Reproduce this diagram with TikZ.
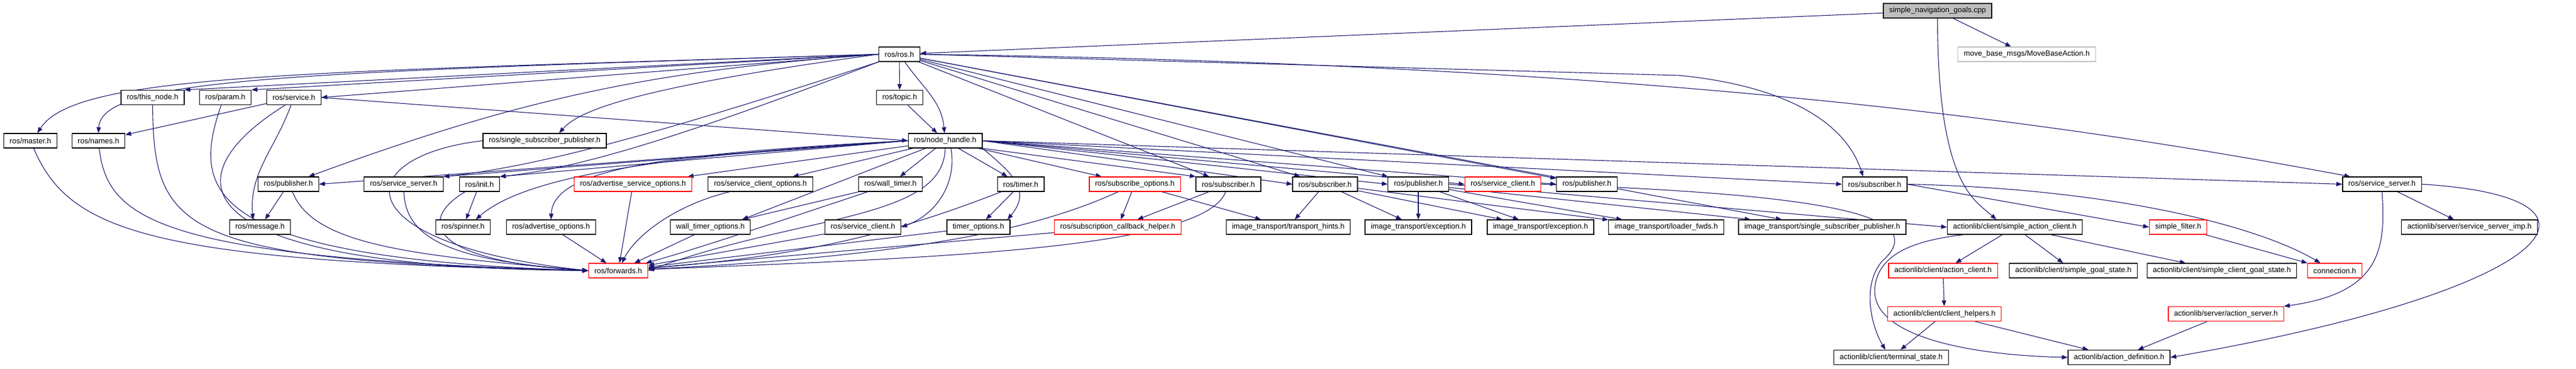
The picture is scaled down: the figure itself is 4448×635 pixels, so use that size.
\documentclass[tikz,border=0pt]{standalone}
\usepackage{fontspec}
\setmainfont{Liberation Sans}
\usetikzlibrary{arrows.meta}
\pgfdeclarelayer{background}
\pgfsetlayers{background,main}
\definecolor{edgeblue}{HTML}{191970}
\definecolor{boxgrey}{HTML}{BFBFBF}
\definecolor{boxred}{HTML}{FF0000}
\tikzset{
  file/.style={draw=black, line width=1.3pt, fill=white, minimum height=25pt, inner xsep=10pt, inner ysep=0pt, font=\fontsize{13}{15}\selectfont},
  trunc/.style={file, draw=boxred},
  ext/.style={file, draw=boxgrey},
  root/.style={file, fill=boxgrey},
  dep/.style={->, draw=edgeblue, line width=1.1pt}
}
\begin{document}
\begin{tikzpicture}[x=1pt, y=1pt, >={Triangle[length=10pt,width=7.5pt]}]
\useasboundingbox (0,0) rectangle (4448,-635);
% row 0 and 1
\node[root] (cpp) at (3345.5,-18.5) {simple\_navigation\_goals.cpp};
\node[file] (rosh) at (1553,-93.5) {ros/ros.h};
\node[ext] (movebase) at (3499.5,-93.5) {move\_base\_msgs/MoveBaseAction.h};
% row 2
\node[file] (thisnode) at (263.5,-168) {ros/this\_node.h};
\node[file] (param) at (389,-168) {ros/param.h};
\node[file] (service) at (507.5,-168) {ros/service.h};
\node[file] (topic) at (1553.5,-168) {ros/topic.h};
% row 3
\node[file] (master) at (52.5,-242.5) {ros/master.h};
\node[file] (names) at (170,-242.5) {ros/names.h};
\node[file] (ssp) at (940.5,-242.5) {ros/single\_subscriber\_publisher.h};
\node[file] (nodehandle) at (1632,-242.5) {ros/node\_handle.h};
% row 4
\node[file] (publisherA) at (498,-317.5) {ros/publisher.h};
\node[file] (servserverA) at (697,-317.5) {ros/service\_server.h};
\node[file] (init) at (828,-317.5) {ros/init.h};
\node[trunc] (advsrvopt) at (1093,-317.5) {ros/advertise\_service\_options.h};
\node[file] (srvclientopt) at (1313,-317.5) {ros/service\_client\_options.h};
\node[file] (walltimer) at (1537.5,-317.5) {ros/wall\_timer.h};
\node[file] (timer) at (1762.5,-317.5) {ros/timer.h};
\node[trunc] (subopt) at (1959.5,-317.5) {ros/subscribe\_options.h};
\node[file] (subscriberA) at (2121,-317.5) {ros/subscriber.h};
\node[file] (subscriberB) at (2288,-317.5) {ros/subscriber.h};
\node[file] (publisherB) at (2449,-317.5) {ros/publisher.h};
\node[trunc] (srvclient) at (2595,-317.5) {ros/service\_client.h};
\node[file] (publisherC) at (2740,-317.5) {ros/publisher.h};
\node[file] (subscriberC) at (3237,-317.5) {ros/subscriber.h};
\node[file] (servserverB) at (4113,-317.5) {ros/service\_server.h};
% row 5
\node[file] (message) at (449,-391.5) {ros/message.h};
\node[file] (spinner) at (799.5,-391.5) {ros/spinner.h};
\node[file] (advopt) at (951.5,-391.5) {ros/advertise\_options.h};
\node[file] (walltimeropt) at (1226.5,-391.5) {wall\_timer\_options.h};
\node[file] (srvclientB) at (1490,-391.5) {ros/service\_client.h};
\node[file] (timeropt) at (1689.5,-391.5) {timer\_options.h};
\node[trunc] (subcbhelper) at (1930,-391.5) {ros/subscription\_callback\_helper.h};
\node[file] (transporthints) at (2224.5,-391.5) {image\_transport/transport\_hints.h};
\node[file] (exceptionA) at (2449,-391.5) {image\_transport/exception.h};
\node[file] (exceptionB) at (2660,-391.5) {image\_transport/exception.h};
\node[file] (loaderfwds) at (2877,-391.5) {image\_transport/loader\_fwds.h};
\node[file] (itssp) at (3146.5,-391.5) {image\_transport/single\_subscriber\_publisher.h};
\node[file] (sac) at (3479,-391.5) {actionlib/client/simple\_action\_client.h};
\node[trunc] (simplefilter) at (3761,-391.5) {simple\_filter.h};
\node[file] (ssimp) at (4264,-391.5) {actionlib/server/service\_server\_imp.h};
% row 6 to 8
\node[trunc] (forwards) at (1067.5,-466.5) {ros/forwards.h};
\node[trunc] (actionclient) at (3355,-466.5) {actionlib/client/action\_client.h};
\node[file] (sgs) at (3580,-466.5) {actionlib/client/simple\_goal\_state.h};
\node[file] (scgs) at (3836.5,-466.5) {actionlib/client/simple\_client\_goal\_state.h};
\node[trunc] (connection) at (4031.5,-466.5) {connection.h};
\node[trunc] (clienthelpers) at (3357.5,-541) {actionlib/client/client\_helpers.h};
\node[trunc] (actionserver) at (3843.5,-541) {actionlib/server/action\_server.h};
\node[file] (terminal) at (3265.5,-616) {actionlib/client/terminal\_state.h};
\node[file] (actiondef) at (3659,-616) {actionlib/action\_definition.h};

\begin{pgfonlayer}{background}
% from the source file
\draw[dep] (cpp) -- (rosh);
\draw[dep] (cpp) -- (movebase);
\draw[dep] (cpp.south) .. controls (3346,-320) and (3410,-345) .. ([xshift=-32pt]sac.north);
% from ros/ros.h
\draw[dep] (rosh.west) .. controls (500,-125) and (130,-128) .. ([xshift=12pt]master.north);
\draw[dep] (rosh.west) .. controls (500,-125) and (175,-135) .. (names.north);
\draw[dep] (rosh.west) -- (thisnode.north east);
\draw[dep] (rosh.west) -- (param.north east);
\draw[dep] (rosh.west) -- (service.east);
\draw[dep] (rosh.west) to[bend right=8] ([xshift=35pt]publisherA.north);
\draw[dep] (rosh.west) .. controls (1100,-150) and (1000,-190) .. ([xshift=25pt]ssp.north);
\draw[dep] (rosh.south west) .. controls (1200,-210) and (950,-285) .. (servserverA.north east);
\draw[dep] (rosh.south west) .. controls (1180,-235) and (1000,-290) .. (init.north east);
\draw[dep] (rosh) -- (topic);
\draw[dep] (rosh) to[out=-55,in=95] (nodehandle);
\draw[dep] (rosh) -- (subscriberA);
\draw[dep] (rosh) -- (subscriberB);
\draw[dep] (rosh) -- (publisherB);
\draw[dep] (rosh) -- (publisherC);
\draw[dep] (rosh) -- (itssp);
\draw[dep] (rosh.east) -- (2900,-130) .. controls (3100,-150) and (3190,-220) .. ([xshift=-20pt]subscriberC.north);
\draw[dep] (rosh.east) .. controls (2800,-110) and (3500,-200) .. ([xshift=-55pt]servserverB.north);
% left part
\draw[dep] (service) -- (names);
\draw[dep] ([xshift=-5pt]service.south) to[out=-110,in=95] ([xshift=-12pt]message.north);
\draw[dep] ([xshift=-15pt]service.south) .. controls (300,-300) and (290,-460) .. (forwards.west);
\draw[dep] (service.east) -- (nodehandle.west);
\draw[dep] (topic) -- (nodehandle);
\draw[dep] (master) .. controls (120,-400) and (260,-450) .. (forwards.west);
\draw[dep] (names) .. controls (185,-380) and (280,-445) .. (forwards.west);
\draw[dep] (thisnode) .. controls (265,-400) and (310,-450) .. (forwards.west);
\draw[dep] ([xshift=-7pt]param.south) .. controls (330,-330) and (350,-445) .. (forwards.west);
\draw[dep] (ssp.west) .. controls (600,-270) and (590,-420) .. (forwards.west);
\draw[dep] (publisherA) -- (message);
\draw[dep] ([xshift=7pt]publisherA.south) .. controls (540,-420) and (700,-440) .. (forwards.west);
\draw[dep] (servserverA) .. controls (700,-420) and (800,-450) .. (forwards.west);
\draw[dep] ([xshift=-25pt]init.south) .. controls (720,-380) and (740,-450) .. (forwards.west);
\draw[dep] (init) -- (spinner);
\draw[dep] (advsrvopt) -- (forwards);
\draw[dep] (advopt) -- (forwards);
\draw[dep] (srvclientopt) .. controls (1160,-355) and (1095,-410) .. (forwards);
% from ros/node_handle.h
\draw[dep] (nodehandle.west) -- (publisherA.east);
\draw[dep] (nodehandle.west) -- (servserverA.north east);
\draw[dep] (nodehandle.west) -- (init.north east);
\draw[dep] (nodehandle.west) .. controls (1100,-270) and (900,-310) .. ([xshift=22pt]spinner.north);
\draw[dep] (nodehandle.west) .. controls (1150,-265) and (955,-290) .. (advopt.north);
\draw[dep] (nodehandle) -- (advsrvopt);
\draw[dep] (nodehandle) -- (srvclientopt);
\draw[dep] (nodehandle) -- (walltimer);
\draw[dep] (nodehandle) -- ([xshift=-15pt]walltimeropt.north east);
\draw[dep] (nodehandle.south) .. controls (1630,-380) and (1380,-370) .. (forwards.east);
\draw[dep] ([xshift=10pt]nodehandle.south) to[out=-80,in=20] (srvclientB.east);
\draw[dep] (nodehandle) -- (timer);
\draw[dep] (nodehandle.south east) to[out=-40,in=50,looseness=1.3] ([xshift=-5pt]timeropt.north east);
\draw[dep] (nodehandle) -- (subopt);
\draw[dep] (nodehandle.south east) -- (subscriberA.north west);
\draw[dep] (nodehandle.east) -- (subscriberB.west);
\draw[dep] (nodehandle.east) -- (publisherB.west);
\draw[dep] (nodehandle.east) -- (srvclient.west);
\draw[dep] (nodehandle.east) -- (publisherC.west);
\draw[dep] (nodehandle.east) -- (subscriberC.west);
\draw[dep] (nodehandle.east) -- (servserverB.west);
% row 4 to forwards
\draw[dep] (walltimer) -- (walltimeropt);
\draw[dep] (walltimer) .. controls (1350,-380) and (1200,-430) .. (forwards);
\draw[dep] (walltimeropt) -- (forwards);
\draw[dep] (srvclientB) -- (forwards);
\draw[dep] (timer) -- (timeropt);
\draw[dep] (timer) .. controls (1550,-400) and (1400,-440) .. (forwards);
\draw[dep] (timeropt) -- (forwards);
\draw[dep] (subopt) .. controls (1800,-390) and (1600,-440) .. (forwards);
\draw[dep] (subopt) -- (subcbhelper);
\draw[dep] (subopt) -- (transporthints);
\draw[dep] (subscriberA) -- (subcbhelper);
\draw[dep] (subscriberA) .. controls (2080,-430) and (1600,-445) .. (forwards);
\draw[dep] (subcbhelper) -- (forwards);
% image_transport
\draw[dep] (subscriberB) -- (transporthints);
\draw[dep] (subscriberB) -- (exceptionA);
\draw[dep] (subscriberB) -- (exceptionB);
\draw[dep] (subscriberB) -- (loaderfwds);
\draw[dep] (publisherB) -- (exceptionA);
\draw[dep] (publisherB) -- (exceptionB);
\draw[dep] (publisherB) -- (loaderfwds);
\draw[dep] (publisherB) -- (itssp);
\draw[dep] (publisherB.east) -- (sac.west);
% actionlib
\draw[dep] (srvclient.east) .. controls (3150,-335) and (3340,-370) .. (3250,-450) .. controls (3215,-490) and (3230,-560) .. ([xshift=-10pt]terminal.north);
\draw[dep] ([xshift=28pt]sac.south west) .. controls (3300,-415) and (3240,-440) .. (3237,-500) .. controls (3235,-580) and (3400,-612) .. (actiondef.west);
\draw[dep] (sac) -- (actionclient);
\draw[dep] (sac) -- (sgs);
\draw[dep] (sac) -- (scgs);
\draw[dep] (actionclient) -- (clienthelpers);
\draw[dep] (clienthelpers) -- (terminal);
\draw[dep] (clienthelpers) -- (actiondef);
\draw[dep] (actionserver) -- (actiondef);
\draw[dep] (subscriberC.east) -- (simplefilter.west);
\draw[dep] (subscriberC.east) .. controls (3650,-325) and (3900,-390) .. ([xshift=-25pt]connection.north);
\draw[dep] (simplefilter) -- (connection);
\draw[dep] (servserverB) -- (ssimp);
\draw[dep] (servserverB.south) .. controls (4120,-430) and (4110,-505) .. (actionserver.north east);
\draw[dep] (servserverB.east) .. controls (4550,-340) and (4420,-500) .. (actiondef.east);
\end{pgfonlayer}
\end{tikzpicture}
\end{document}
